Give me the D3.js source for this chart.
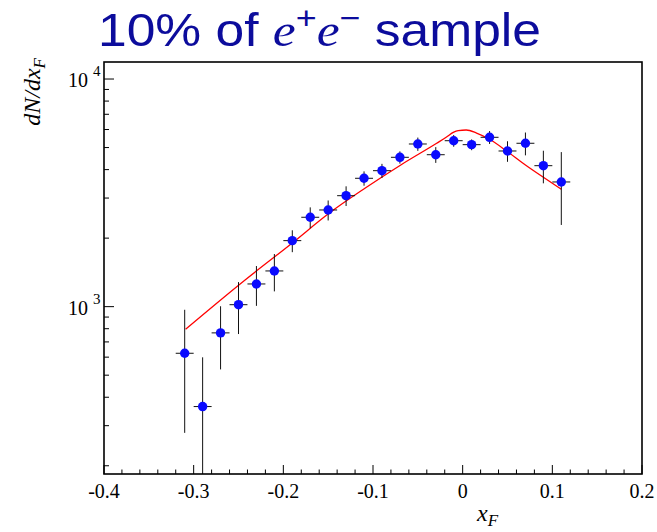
<!DOCTYPE html>
<html>
<head>
<meta charset="utf-8">
<script src="https://cdn.jsdelivr.net/npm/d3@7"></script>
<style>
  body { margin: 0; background: #fff; }
  svg { display: block; }
</style>
</head>
<body>
<svg width="657" height="532"></svg>
<script>
const xCenters = [-0.31, -0.29, -0.27, -0.25, -0.23, -0.21, -0.19, -0.17, -0.15, -0.13, -0.11,
                  -0.09, -0.07, -0.05, -0.03, -0.01, 0.01, 0.03, 0.05, 0.07, 0.09, 0.11];
const counts = [624, 364, 767, 1020, 1258, 1435, 1950, 2470, 2659, 3073, 3664,
                3957, 4530, 5183, 4651, 5358, 5148, 5546, 4829, 5221, 4162, 3530];
const errors = [345, 235, 237, 262, 250, 268, 215, 260, 268, 305, 265,
                283, 280, 347, 370, 316, 280, 360, 500, 600, 680, 1245];
const binHalf = 0.01;

// red fit curve
const fitX = [-0.309, -0.243, -0.190, -0.149, -0.109, -0.069, -0.029, -0.018, -0.0105, -0.005, 0.004,
              0.0155, 0.030, 0.050, 0.070, 0.090, 0.110];
const fitY = [796, 1307, 1905, 2572, 3311, 4192, 5220, 5560, 5830, 5940, 5970,
              5790, 5436, 4795, 4192, 3701, 3279];

const xTicks = [-0.4, -0.3, -0.2, -0.1, 0, 0.1, 0.2];
const xTickLabels = ["-0.4", "-0.3", "-0.2", "-0.1", "0", "0.1", "0.2"];
const yMajor = [1000, 10000];
const yExp = ["3", "4"];

const svg = d3.select("svg");
const padL = 104, padR = 642, padT = 62, padB = 474;

const x = d3.scaleLinear().domain([-0.4, 0.2]).range([padL, padR]);
const y = d3.scaleLog().domain([184, 11880]).range([padB, padT]);

// title
const title = svg.append("text")
  .attr("x", 98).attr("y", 46)
  .attr("fill", "#0c0c9c")
  .attr("textLength", 443)
  .attr("lengthAdjust", "spacingAndGlyphs")
  .style("font-family", "'Liberation Sans', Arial, sans-serif")
  .style("font-size", "46px");
title.append("tspan").text("10% of ");
title.append("tspan").style("font-family", "'Liberation Serif', serif").style("font-style", "italic").text("e");
title.append("tspan").attr("dy", -17).style("font-size", "32px").text("+");
title.append("tspan").attr("dy", 17).style("font-family", "'Liberation Serif', serif").style("font-style", "italic").text("e");
title.append("tspan").attr("dy", -17).style("font-size", "32px").text("\u2212");
title.append("tspan").attr("dy", 17).text(" sample");

// clip for the plot area
svg.append("clipPath").attr("id", "plot")
  .append("rect").attr("x", padL).attr("y", padT).attr("width", padR - padL).attr("height", padB - padT);

const plot = svg.append("g").attr("clip-path", "url(#plot)");

// x ticks
const xMinor = d3.range(-0.4, 0.2001, 0.02);
svg.append("g").selectAll("line")
  .data(xMinor)
  .enter().append("line")
  .attr("x1", d => x(d)).attr("x2", d => x(d))
  .attr("y1", padB)
  .attr("y2", d => Math.abs(Math.round(d * 50) % 5) === 0 ? padB - 9 : padB - 4.5)
  .style("stroke", "#000").style("stroke-width", 1);

svg.append("g").selectAll("text")
  .data(xTicks)
  .enter().append("text")
  .attr("x", d => x(d)).attr("y", 498)
  .attr("text-anchor", "middle")
  .style("font-family", "'Liberation Serif', 'Times New Roman', serif")
  .style("font-size", "20px")
  .text((d, i) => xTickLabels[i]);

// y ticks (log)
const yMinor = [200, 300, 400, 500, 600, 700, 800, 900, 2000, 3000, 4000, 5000, 6000, 7000, 8000, 9000];
svg.append("g").selectAll("line")
  .data(yMinor)
  .enter().append("line")
  .attr("x1", padL).attr("x2", padL + 5)
  .attr("y1", d => y(d)).attr("y2", d => y(d))
  .style("stroke", "#000").style("stroke-width", 1);
svg.append("g").selectAll("line")
  .data(yMajor)
  .enter().append("line")
  .attr("x1", padL).attr("x2", padL + 10)
  .attr("y1", d => y(d)).attr("y2", d => y(d))
  .style("stroke", "#000").style("stroke-width", 1);

const yLab = svg.append("g").selectAll("g")
  .data(yMajor)
  .enter().append("g")
  .style("font-family", "'Liberation Serif', 'Times New Roman', serif");
yLab.append("text")
  .attr("x", 88).attr("y", d => y(d) + 8)
  .attr("text-anchor", "end")
  .style("font-size", "20px")
  .text("10");
yLab.append("text")
  .attr("x", 93).attr("y", d => y(d) - 3)
  .style("font-size", "15px")
  .text((d, i) => yExp[i]);

// axis titles
const yTitle = svg.append("text")
  .attr("transform", "translate(40,58) rotate(-90)")
  .attr("text-anchor", "end")
  .style("font-family", "'Liberation Serif', 'Times New Roman', serif")
  .style("font-style", "italic")
  .style("font-size", "24px");
yTitle.append("tspan").text("dN/dx");
yTitle.append("tspan").attr("dy", 5).style("font-size", "17px").text("F");

const xTitle = svg.append("text")
  .attr("x", 477).attr("y", 521)
  .style("font-family", "'Liberation Serif', 'Times New Roman', serif")
  .style("font-style", "italic")
  .style("font-size", "24px");
xTitle.append("tspan").text("x");
xTitle.append("tspan").attr("dy", 5).style("font-size", "17px").text("F");

// fit curve
const fitData = fitX.map((d, i) => ({ x: d, y: fitY[i] }));
plot.append("path")
  .datum(fitData)
  .attr("d", d3.line().x(d => x(d.x)).y(d => y(d.y)).curve(d3.curveMonotoneX))
  .style("fill", "none")
  .style("stroke", "#ff0000")
  .style("stroke-width", 1.3);

// data points with error bars
const pts = xCenters.map((d, i) => ({ x: d, y: counts[i], e: errors[i] }));

plot.append("g").selectAll("line")
  .data(pts)
  .enter().append("line")
  .attr("x1", d => x(d.x)).attr("x2", d => x(d.x))
  .attr("y1", d => y(d.y + d.e))
  .attr("y2", d => y(Math.max(d.y - d.e, 1)))
  .style("stroke", "#111").style("stroke-width", 1);

plot.append("g").selectAll("line")
  .data(pts)
  .enter().append("line")
  .attr("x1", d => x(d.x - binHalf)).attr("x2", d => x(d.x + binHalf))
  .attr("y1", d => y(d.y)).attr("y2", d => y(d.y))
  .style("stroke", "#111").style("stroke-width", 1);

plot.append("g").selectAll("circle")
  .data(pts)
  .enter().append("circle")
  .attr("cx", d => x(d.x))
  .attr("cy", d => y(d.y))
  .attr("r", 4.7)
  .style("fill", "#0a0aff");

// frame
svg.append("rect")
  .attr("x", padL).attr("y", padT)
  .attr("width", padR - padL).attr("height", padB - padT)
  .style("fill", "none")
  .style("stroke", "#000")
  .style("stroke-width", 1.6);
</script>
</body>
</html>
